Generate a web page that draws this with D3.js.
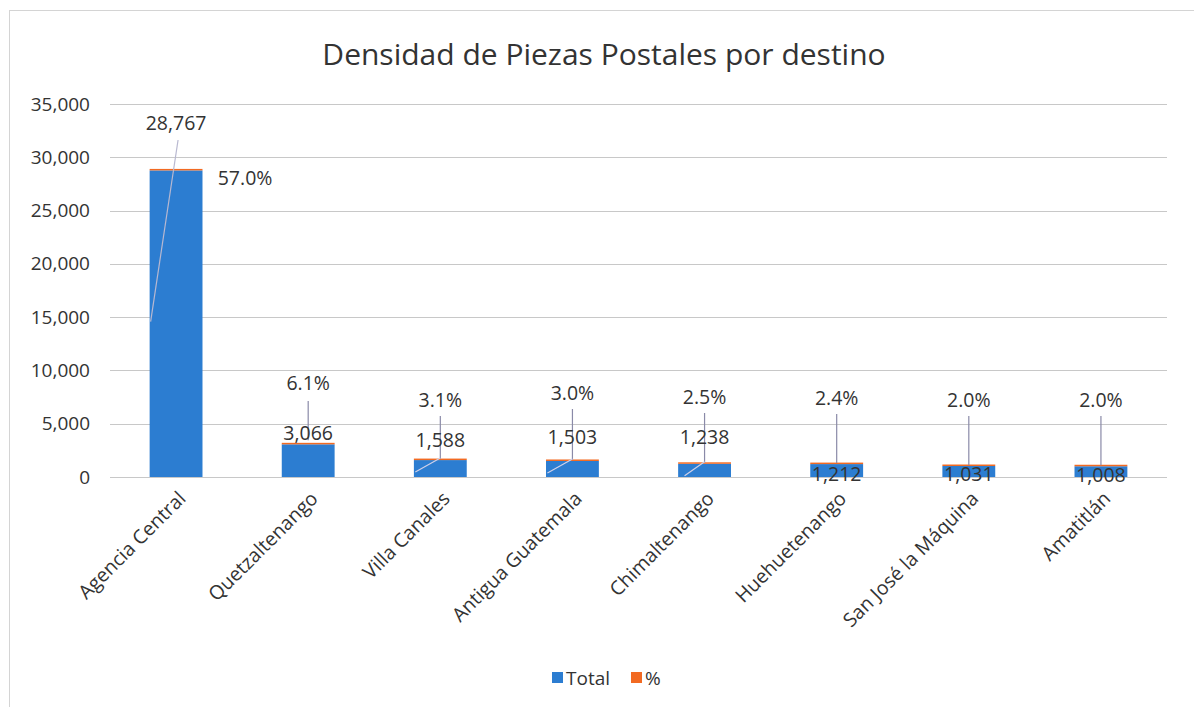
<!DOCTYPE html>
<html><head><meta charset="utf-8">
<script src="https://cdn.jsdelivr.net/npm/d3@7"></script>
<style>body{margin:0;background:#fff}text{font-family:"Open Sans","Noto Sans",sans-serif;fill:#333}</style>
</head><body>
<svg id="c" width="1194" height="707"></svg>
<script>
const categories = ["Agencia Central","Quetzaltenango","Villa Canales","Antigua Guatemala","Chimaltenango","Huehuetenango","San José la Máquina","Amatitlán"];
const totals = [28767, 3066, 1588, 1503, 1238, 1212, 1031, 1008];
const percents = [0.570, 0.061, 0.031, 0.030, 0.025, 0.024, 0.020, 0.020];
const yTicks = [0, 5000, 10000, 15000, 20000, 25000, 30000, 35000];
const seriesNames = ["Total", "%"];

// label placement (layout only): offsets from band centre, in px
const totLab = [{dx:0,y:123},{dx:0,y:433},{dx:0,y:440},{dx:0,y:437},{dx:0,y:437},{dx:0,y:474},{dx:0,y:474},{dx:0,y:475}];
const pctLab = [{dx:69,y:178},{dx:0,y:383},{dx:0,y:400},{dx:0,y:393},{dx:0,y:397},{dx:0,y:398},{dx:0,y:400},{dx:0,y:400}];

const svg = d3.select("#c");
const colors = ["#2c7dd1", "#f26a22"];
svg.append("rect").attr("x",9.5).attr("y",10.5).attr("width",1190).attr("height",700)
  .attr("fill","none").attr("stroke","#d4d4d4");

const x = d3.scaleBand().domain(categories).range([110,1167]).paddingInner(0.6).paddingOuter(0.3);
const y = d3.scaleLinear().domain([0,35000]).range([477,104]);

svg.append("text").attr("x",604).attr("y",65).attr("text-anchor","middle")
  .style("font-size","30px").text("Densidad de Piezas Postales por destino");

// grid
svg.append("g").selectAll("line").data(yTicks).join("line")
  .attr("x1",110).attr("x2",1167).attr("y1",d=>Math.round(y(d))+0.5).attr("y2",d=>Math.round(y(d))+0.5)
  .attr("stroke","#c8c8c8").attr("stroke-width",1);

const yAxis = svg.append("g").attr("transform","translate(110,0)")
  .call(d3.axisLeft(y).tickValues(yTicks).tickFormat(d3.format(",")).tickSize(0).tickPadding(20));
yAxis.select(".domain").remove();
yAxis.selectAll("text").style("font-size","19px").style("font-family","'Open Sans','Noto Sans',sans-serif").attr("fill","#333");

// bars
const stackData = categories.map((c,i)=>({cat:c, Total:totals[i], "%":percents[i]}));
const stack = d3.stack().keys(seriesNames)(stackData);
stack.forEach((s,si)=>{
  svg.append("g").selectAll("rect").data(s).join("rect")
    .attr("x",d=>x(d.data.cat)).attr("width",x.bandwidth())
    .attr("y",d=>si===0 ? y(d[1]) : y(d[1])-1.5)
    .attr("height",d=>si===0 ? y(d[0])-y(d[1]) : Math.max(y(d[0])-y(d[1]),1.5))
    .attr("fill",colors[si]);
});

// leader lines
const cx = i => x(categories[i]) + x.bandwidth()/2;
const lc = "#8a8aa8";
const lines = svg.append("g").attr("stroke",lc).attr("stroke-width",1.2).attr("fill","none");
lines.append("line").attr("x1",cx(0)+2).attr("y1",140).attr("x2",x(categories[0])+1).attr("y2",y(totals[0]/2)-2).attr("stroke","#b8b8d0");
lines.append("line").attr("x1",cx(1)).attr("y1",401).attr("x2",cx(1)).attr("y2",y(totals[1])-4);
[2,3,4].forEach(i=>{
  const yt = pctLab[i].y + 16;
  lines.append("line").attr("x1",cx(i)).attr("y1",yt).attr("x2",cx(i)).attr("y2",y(totals[i])-1);
  lines.append("line").attr("x1",cx(i)).attr("y1",y(totals[i])-2).attr("x2",cx(i)-(i===4?20:25)).attr("y2",y(totals[i])+12).attr("stroke","#d0d0e8");
});
[5,6,7].forEach(i=>{
  lines.append("line").attr("x1",cx(i)).attr("y1",pctLab[i].y+16).attr("x2",cx(i)).attr("y2",y(totals[i])-1);
});

// labels
const fmt = d3.format(",");
svg.append("g").selectAll("text").data(totals).join("text")
  .attr("x",(d,i)=>cx(i)+totLab[i].dx).attr("y",(d,i)=>totLab[i].y).attr("dy","0.35em")
  .attr("text-anchor","middle").style("font-size","19.5px").text(d=>fmt(d));
svg.append("g").selectAll("text").data(percents).join("text")
  .attr("x",(d,i)=>cx(i)+pctLab[i].dx).attr("y",(d,i)=>pctLab[i].y).attr("dy","0.35em")
  .attr("text-anchor","middle").style("font-size","19.5px").text(d=>d3.format(".1%")(d));

// category labels
svg.append("g").selectAll("text").data(categories).join("text")
  .attr("transform",(d,i)=>`translate(${cx(i)+6},${495}) rotate(-45)`)
  .attr("text-anchor","end").attr("dy","0.35em").style("font-size","19.5px").text(d=>d);

// legend
const lg = svg.append("g");
const lx = [552, 631];
seriesNames.forEach((s,i)=>{
  lg.append("rect").attr("x",lx[i]).attr("y",672).attr("width",11).attr("height",11).attr("fill",colors[i]);
  lg.append("text").attr("x",lx[i]+14).attr("y",678).attr("dy","0.35em").style("font-size","19px").text(s);
});
</script>
</body></html>
